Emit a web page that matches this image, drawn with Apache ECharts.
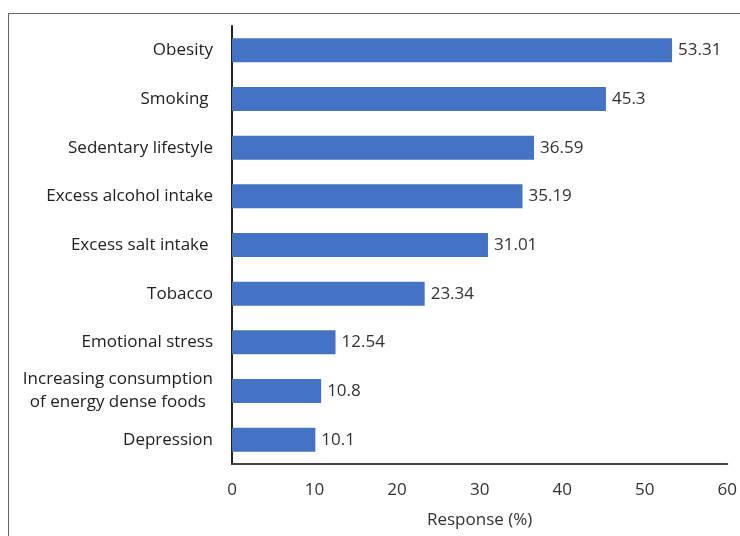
<!DOCTYPE html>
<html>
<head>
<meta charset="utf-8">
<script src="https://cdn.jsdelivr.net/npm/echarts@6/dist/echarts.min.js"></script>
<style>
  html, body { margin: 0; padding: 0; background: #fff; }
  #frame {
    position: absolute; left: 8px; top: 13px; width: 760px; height: 560px;
    border: 1px solid #666; box-sizing: border-box;
  }
  #chart { position: absolute; left: 0; top: 0; width: 740px; height: 536px; }
</style>
</head>
<body>
<div id="frame"></div>
<div id="chart"></div>
<script>
// risk factors, bottom to top as drawn on the category axis
const factors = [
  'Depression',
  '{c|Increasing consumption}\n{c|of energy dense foods}',
  'Emotional stress',
  'Tobacco',
  'Excess salt intake ',
  'Excess alcohol intake',
  'Sedentary lifestyle',
  'Smoking ',
  'Obesity'
]
const responses = [10.1, 10.8, 12.54, 23.34, 31.01, 35.19, 36.59, 45.3, 53.31]
const xTicks = [0, 10, 20, 30, 40, 50, 60]

const font = '"Open Sans", sans-serif'
const chart = echarts.init(document.getElementById('chart'))

chart.setOption({
  animation: false,
  grid: { left: 232, right: 10, top: 26, bottom: 72 },
  xAxis: {
    type: 'value',
    min: xTicks[0],
    max: xTicks[xTicks.length - 1],
    interval: 10,
    name: 'Response (%)',
    nameLocation: 'middle',
    nameGap: 48,
    nameTextStyle: { fontFamily: font, fontSize: 17, color: '#333' },
    axisLine: { show: true, lineStyle: { color: '#444', width: 2 } },
    axisTick: { show: false },
    splitLine: { show: false },
    axisLabel: { fontFamily: font, fontSize: 17, color: '#333', margin: 18 }
  },
  yAxis: {
    type: 'category',
    data: factors,
    axisLine: { show: true, lineStyle: { color: '#222', width: 2 } },
    axisTick: { show: false },
    axisLabel: {
      fontFamily: font, fontSize: 17, color: '#222', margin: 19,
      lineHeight: 23,
      rich: { c: { align: 'center', fontFamily: font, fontSize: 17, color: '#222', lineHeight: 23 } }
    }
  },
  series: [{
    type: 'bar',
    data: responses,
    barWidth: 24,
    itemStyle: { color: '#4472C4' },
    label: {
      show: true,
      position: 'right',
      distance: 6,
      fontFamily: font,
      fontSize: 17,
      color: '#333'
    }
  }]
})
</script>
</body>
</html>
